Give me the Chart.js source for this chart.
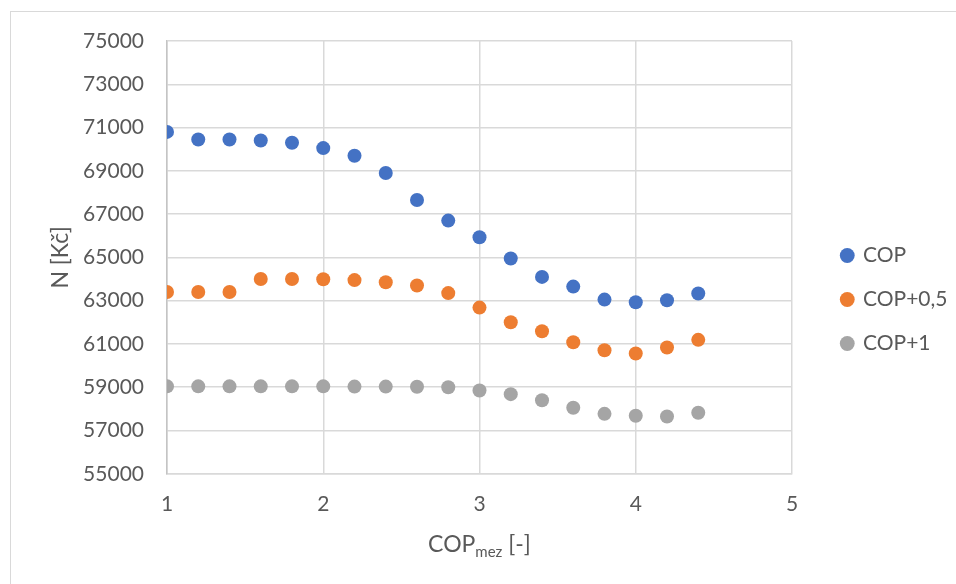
<!DOCTYPE html>
<html>
<head>
<meta charset="utf-8">
<script src="https://cdn.jsdelivr.net/npm/chart.js@4.4.1/dist/chart.umd.min.js"></script>
<style>
  html, body { margin: 0; padding: 0; background: #fff; overflow: hidden; }
  #frame { position: absolute; left: 10px; top: 11px; width: 1000px; height: 620px; border: 1.5px solid #d9d9d9; }
  #wrap { position: absolute; left: 0; top: 0; width: 956px; height: 584px; }
</style>
</head>
<body>
<div id="frame"></div>
<div id="wrap"><canvas id="chart"></canvas></div>
<script>
// COP_mez values on the x axis
const copMez = [1, 1.2, 1.4, 1.6, 1.8, 2, 2.2, 2.4, 2.6, 2.8, 3, 3.2, 3.4, 3.6, 3.8, 4, 4.2, 4.4];

// N [Kč] for each series
const nCop = [70800, 70450, 70450, 70400, 70300, 70050, 69700, 68900, 67650, 66700,
              65930, 64950, 64100, 63650, 63050, 62930, 63020, 63330];
const nCop05 = [63400, 63400, 63400, 64000, 64000, 63990, 63950, 63850, 63700, 63350,
                62680, 62000, 61590, 61080, 60710, 60560, 60835, 61190];
const nCop1 = [59040, 59040, 59040, 59040, 59040, 59040, 59030, 59030, 59020, 59000,
               58850, 58680, 58400, 58050, 57770, 57680, 57650, 57820];

const seriesNames = ['COP', 'COP+0,5', 'COP+1'];
const seriesColors = ['#4472c4', '#ed7d31', '#a5a5a5'];

// axis ranges
const xRange = { min: 1, max: 5, step: 1 };
const yRange = { min: 55000, max: 75000, step: 2000 };

const textColor = '#595959';
const gridColor = '#d9d9d9';

// x axis title with subscript, drawn by hand
const xTitlePlugin = {
    id: 'xTitle',
    afterDraw(chart) {
        const ctx = chart.ctx;
        const area = chart.chartArea;
        const bigFont = '23px Lato';
        const smallFont = '15px Lato';
        ctx.save();
        ctx.fillStyle = textColor;
        ctx.textBaseline = 'alphabetic';
        ctx.textAlign = 'left';
        ctx.font = bigFont;
        const w1 = ctx.measureText('COP').width;
        const w3 = ctx.measureText(' [-]').width;
        ctx.font = smallFont;
        const w2 = ctx.measureText('mez').width;
        let x = (area.left + area.right) / 2 - (w1 + w2 + w3) / 2;
        const y = chart.height - 32;
        ctx.font = bigFont;
        ctx.fillText('COP', x, y);
        x += w1;
        ctx.font = smallFont;
        ctx.fillText('mez', x, y + 5);
        x += w2;
        ctx.font = bigFont;
        ctx.fillText(' [-]', x, y);
        ctx.restore();
    }
};

// move the legend to the right of the plot
const legendPlacer = {
    id: 'legendPlacer',
    afterLayout(chart) {
        const lg = chart.legend;
        const w = lg.width, h = lg.height;
        lg.left = 819;
        lg.top = 222;
        lg.right = lg.left + w;
        lg.bottom = lg.top + h;
    }
};

const datasets = [nCop, nCop05, nCop1].map((vals, i) => ({
    label: seriesNames[i],
    data: copMez.map((x, j) => ({ x: x, y: vals[j] })),
    backgroundColor: seriesColors[i],
    borderColor: seriesColors[i],
    pointRadius: 7,
    pointHoverRadius: 7,
    pointBorderWidth: 0,
    showLine: false
}));

new Chart(document.getElementById('chart').getContext('2d'), {
    type: 'scatter',
    data: { datasets: datasets },
    options: {
        responsive: true,
        maintainAspectRatio: false,
        animation: false,
        layout: { padding: { left: 30, right: 164, top: 41, bottom: 49 } },
        plugins: {
            tooltip: { enabled: false },
            legend: {
                position: 'chartArea',
                align: 'start',
                labels: {
                    usePointStyle: true,
                    pointStyle: 'circle',
                    boxWidth: 10.5,
                    boxHeight: 10.5,
                    padding: 23,
                    color: textColor,
                    font: { family: 'Lato', size: 21 }
                }
            }
        },
        scales: {
            x: {
                type: 'linear',
                min: xRange.min,
                max: xRange.max,
                ticks: {
                    stepSize: xRange.step,
                    padding: 18,
                    color: textColor,
                    font: { family: 'Lato', size: 21 },
                    callback: v => String(v)
                },
                grid: { color: gridColor, lineWidth: 1.5, drawTicks: false },
                border: { color: gridColor, width: 1.5 }
            },
            y: {
                min: yRange.min,
                max: yRange.max,
                afterFit: s => { s.width = 137; },
                ticks: {
                    stepSize: yRange.step,
                    padding: 23,
                    color: textColor,
                    font: { family: 'Lato', size: 21 },
                    callback: v => String(v)
                },
                title: {
                    display: true,
                    text: 'N [Kč]',
                    color: textColor,
                    font: { family: 'Lato', size: 23 },
                    padding: { top: 17, bottom: 0 }
                },
                grid: { color: gridColor, lineWidth: 1.5, drawTicks: false },
                border: { color: '#c4c4c4', width: 1.5 }
            }
        }
    },
    plugins: [xTitlePlugin, legendPlacer]
});
</script>
</body>
</html>
